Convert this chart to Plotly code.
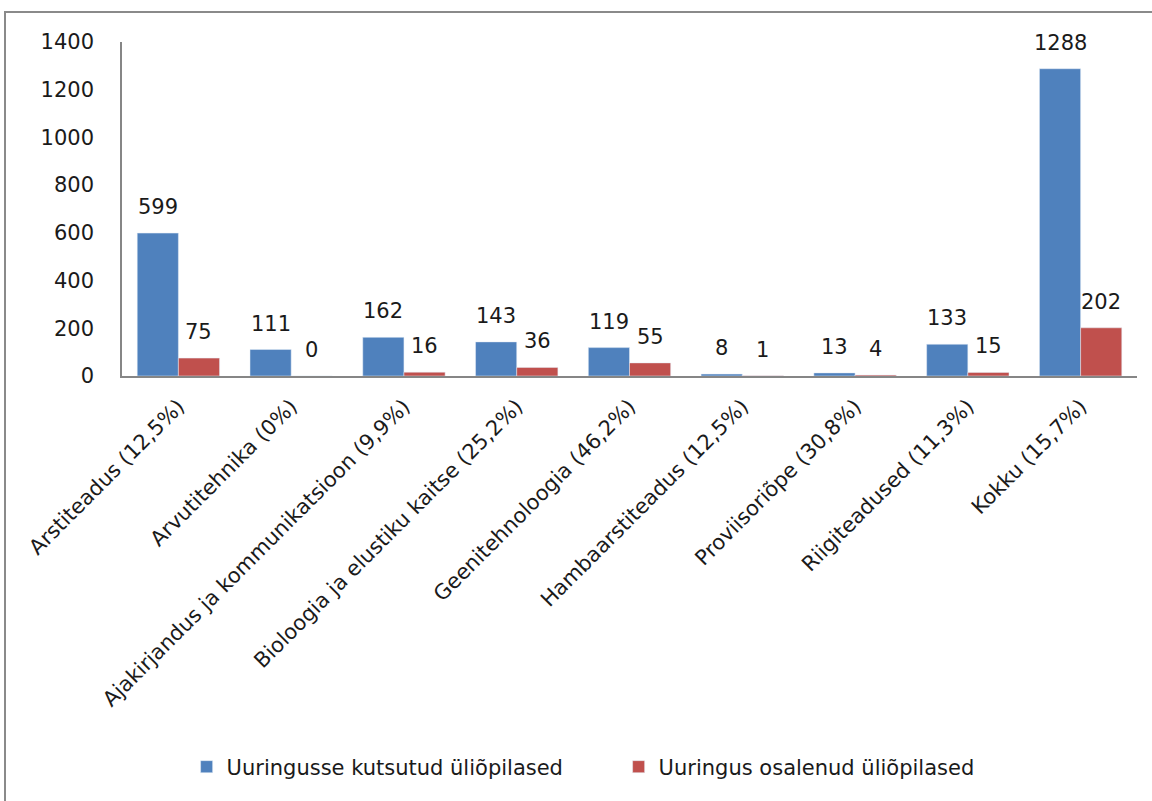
import plotly.graph_objects as go

categories = [
    "Arstiteadus (12,5%)",
    "Arvutitehnika (0%)",
    "Ajakirjandus ja kommunikatsioon (9,9%)",
    "Bioloogia ja elustiku kaitse (25,2%)",
    "Geenitehnoloogia (46,2%)",
    "Hambaarstiteadus (12,5%)",
    "Proviisoriõpe (30,8%)",
    "Riigiteadused (11,3%)",
    "Kokku (15,7%)",
]
invited = [599, 111, 162, 143, 119, 8, 13, 133, 1288]
participated = [75, 0, 16, 36, 55, 1, 4, 15, 202]
series_names = ["Uuringusse kutsutud üliõpilased", "Uuringus osalenud üliõpilased"]
y_ticks = [0, 200, 400, 600, 800, 1000, 1200, 1400]

BLUE = "#4F81BD"
RED = "#C0504D"
FONT = "DejaVu Sans"
TXT = "#1a1a1a"

W, H = 1152, 801
L, R, T, B = 122, 15, 42, 425
pw, ph = W - L - R, H - T - B

fig = go.Figure()
fig.add_trace(go.Bar(x=categories, y=invited, name=series_names[0], marker_color=BLUE))
fig.add_trace(go.Bar(x=categories, y=participated, name=series_names[1], marker_color=RED))

bargap = 0.27
half = pw / len(categories) * (1 - bargap) / 4
annotations = []
for vals, sh in ((invited, -half), (participated, half)):
    for c, v in zip(categories, vals):
        annotations.append(dict(
            x=c, y=v, xref="x", yref="y", text=str(v), showarrow=False,
            xshift=sh, yshift=12, yanchor="bottom", xanchor="center",
            font=dict(family=FONT, size=21, color=TXT),
        ))

fig.update_layout(
    width=W, height=H,
    margin=dict(l=L, r=R, t=T, b=B, pad=0),
    paper_bgcolor="white", plot_bgcolor="white",
    barmode="group", bargap=bargap, bargroupgap=0,
    font=dict(family=FONT, size=21, color=TXT),
    showlegend=True,
    legend=dict(
        orientation="h", xref="container", yref="container",
        x=0.537, xanchor="center", y=34 / H, yanchor="middle",
        font=dict(family=FONT, size=21, color=TXT),
        entrywidth=387, entrywidthmode="pixels",
    ),
    annotations=annotations,
    shapes=[dict(
        type="rect", xref="paper", yref="paper",
        x0=(5 - L) / pw, x1=(W + 10 - L) / pw,
        y0=-(H + 10 - T - ph) / ph, y1=(ph + T - 12) / ph,
        line=dict(color="#8a8a8a", width=2), fillcolor="rgba(0,0,0,0)", layer="below",
    )],
)
fig.update_xaxes(
    type="category", tickangle=-45, showgrid=False, showline=True,
    linecolor="#868686", linewidth=1.5, ticks="", ticklabelstandoff=8,
    tickfont=dict(family=FONT, size=21, color=TXT),
)
fig.update_yaxes(
    range=[0, 1400], tickvals=y_ticks, showgrid=False, showline=True,
    linecolor="#868686", linewidth=1.5, ticks="", zeroline=False,
    ticklabelstandoff=22, tickfont=dict(family=FONT, size=21, color=TXT),
)

fig.write_html("out.html")
